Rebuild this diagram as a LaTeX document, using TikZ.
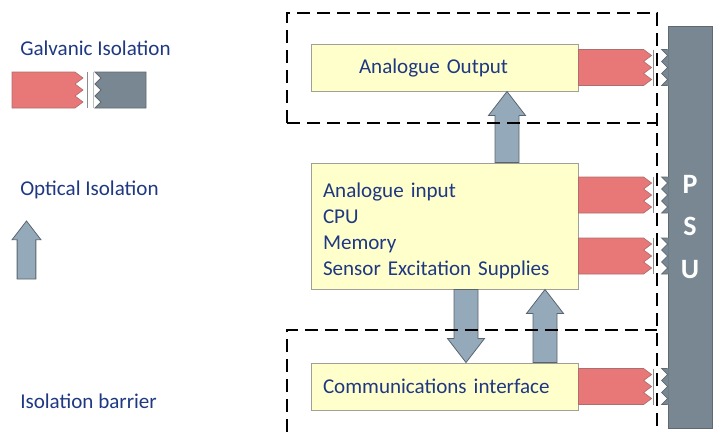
\documentclass[tikz,border=0pt]{standalone}
\usepackage{fontspec}
\setmainfont{Carlito}
\usepackage{tikz}
\usetikzlibrary{calc}

\definecolor{textblue}{RGB}{31,56,130}
\definecolor{boxfill}{RGB}{255,255,204}
\definecolor{boxline}{RGB}{160,160,150}
\definecolor{galvred}{RGB}{232,120,120}
\definecolor{galvline}{RGB}{175,110,110}
\definecolor{psugray}{RGB}{120,135,145}
\definecolor{psuline}{RGB}{95,105,112}
\definecolor{opticfill}{RGB}{148,170,187}
\definecolor{opticline}{RGB}{90,100,110}

\tikzset{
    unitbox/.style={draw=boxline, fill=boxfill, line width=0.75pt, inner ysep=0pt,
        minimum width=200.25pt, align=left, text=textblue, font=\fontsize{15.8}{19.5}\selectfont},
    legendtext/.style={anchor=west, inner sep=0pt, text=textblue, font=\fontsize{15.8}{19}\selectfont},
    galvanic/.style={fill=galvred, draw=galvline, line width=0.5pt},
    psublock/.style={fill=psugray, draw=psuline, line width=0.6pt},
    optic/.style={fill=opticfill, draw=opticline, line width=0.6pt, line join=miter},
    gapline/.style={draw=black!45, line width=0.6pt},
    barrier/.style={line width=2pt, dash pattern=on 10pt off 5pt}
}

% block arrow: [scale]{from}{to}{xshift}
\newcommand{\optarrow}[4][1]{%
    \pgfmathsetlengthmacro{\shw}{#1*9pt}%
    \pgfmathsetlengthmacro{\hdw}{#1*13.9pt}%
    \pgfmathsetlengthmacro{\hdl}{#1*18pt}%
    \coordinate (oa-a) at ($(#2)+(#4,0)$);
    \coordinate (oa-b) at ($(#3)+(#4,0)$);
    \coordinate (oa-h) at ($(oa-b)!\hdl!(oa-a)$);
    \draw[optic] ($(oa-a)!\shw!90:(oa-b)$) -- ($(oa-h)!\shw!90:(oa-b)$)
        -- ($(oa-h)!\hdw!90:(oa-b)$) -- (oa-b) -- ($(oa-h)!\hdw!-90:(oa-b)$)
        -- ($(oa-h)!\shw!-90:(oa-b)$) -- ($(oa-a)!\shw!-90:(oa-b)$) -- cycle;
}

% galvanic link: {from}{yshift}{psu}
\newcommand{\galv}[3]{%
    \coordinate (g-s) at ($(#1)+(0,#2)$);
    \coordinate (g-e) at (#3.west |- g-s);
    \draw[galvanic] ($(g-s)+(0,-18)$) -- ($(g-e)+(-24,-18)$) -- ++(8,6) -- ++(-8,6)
        -- ++(8,6) -- ++(-8,6) -- ++(8,6) -- ++(-8,6) -- ($(g-s)+(0,18)$) -- cycle;
    \draw[gapline] ($(g-e)+(-14,-18)$) -- ++(0,36);
    \fill[psugray] ($(g-e)+(1,-18)$) -- ++(-7,0) -- ++(6,6) -- ++(-6,6) -- ++(6,6)
        -- ++(-6,6) -- ++(6,6) -- ++(-6,6) -- ++(7,0) -- cycle;
    \draw[psuline, line width=0.6pt] ($(g-e)+(0,-18)$) -- ++(-6,0) -- ++(6,6) -- ++(-6,6)
        -- ++(6,6) -- ++(-6,6) -- ++(6,6) -- ++(-6,6) -- ++(6,0);
}

\begin{document}
\begin{tikzpicture}[x=0.75pt, y=-0.75pt]
    \useasboundingbox (0,0) rectangle (717,432);

    % Legend
    \node[legendtext] (galvtxt) at (20,48) {Galvanic Isolation};
    \node[legendtext] (opttxt) at (20,190) {Optical Isolation};
    \node[legendtext] (bartxt) at (20,401) {Isolation barrier};

    \draw[galvanic] (12,72) -- (75,72) -- ++(8,6) -- ++(-8,6) -- ++(8,6) -- ++(-8,6)
        -- ++(8,6) -- ++(-8,6) -- (12,108) -- cycle;
    \draw[gapline] (87,72) -- (87,108);
    \draw[gapline, draw=black!25] (93,72) -- (93,108);
    \draw[psublock] (146,72) -- (95,72) -- ++(6,6) -- ++(-6,6) -- ++(6,6) -- ++(-6,6)
        -- ++(6,6) -- ++(-6,6) -- (146,108) -- cycle;

    \coordinate (lg-a) at (26.5,279);
    \coordinate (lg-b) at (26.5,221);
    \optarrow[0.78]{lg-a}{lg-b}{0}

    % Units
    \node[unitbox, minimum height=35.25pt, inner xsep=36pt, text width=128.25pt]
        (aout) at (444.5,67.5) {Analogue Output};
    \node[unitbox, minimum height=94.5pt, inner xsep=9pt, text width=182.25pt]
        (mid) at (444.5,226) {\rule{0pt}{18pt}Analogue input\\CPU\\Memory\\Sensor Excitation Supplies};
    \node[unitbox, minimum height=35.25pt, inner xsep=9pt, text width=182.25pt]
        (comm) at (444.5,386.5) {Communications interface};

    % Supply
    \node[psublock, minimum width=33pt, minimum height=301.5pt, inner sep=0pt, align=center,
        text=white, font=\fontsize{21}{32}\selectfont\bfseries] (psu) at (690,227) {P\\S\\U};

    % Galvanic links to the supply
    \galv{aout.east}{0}{psu}
    \galv{mid.east}{-31}{psu}
    \galv{mid.east}{30}{psu}
    \galv{comm.east}{0}{psu}

    % Optical links
    \optarrow{mid.north}{aout.south}{62.5}
    \optarrow{mid.south}{comm.north}{21.5}
    \optarrow{comm.north}{mid.south}{100.5}

    % Isolation barriers
    \draw[barrier] (287,123) -- (287,13) -- (657,13) -- (657,432);
    \draw[barrier] (287,123) -- (657,123);
    \draw[barrier] (287,432) -- (287,330) -- (657,330);
\end{tikzpicture}
\end{document}
